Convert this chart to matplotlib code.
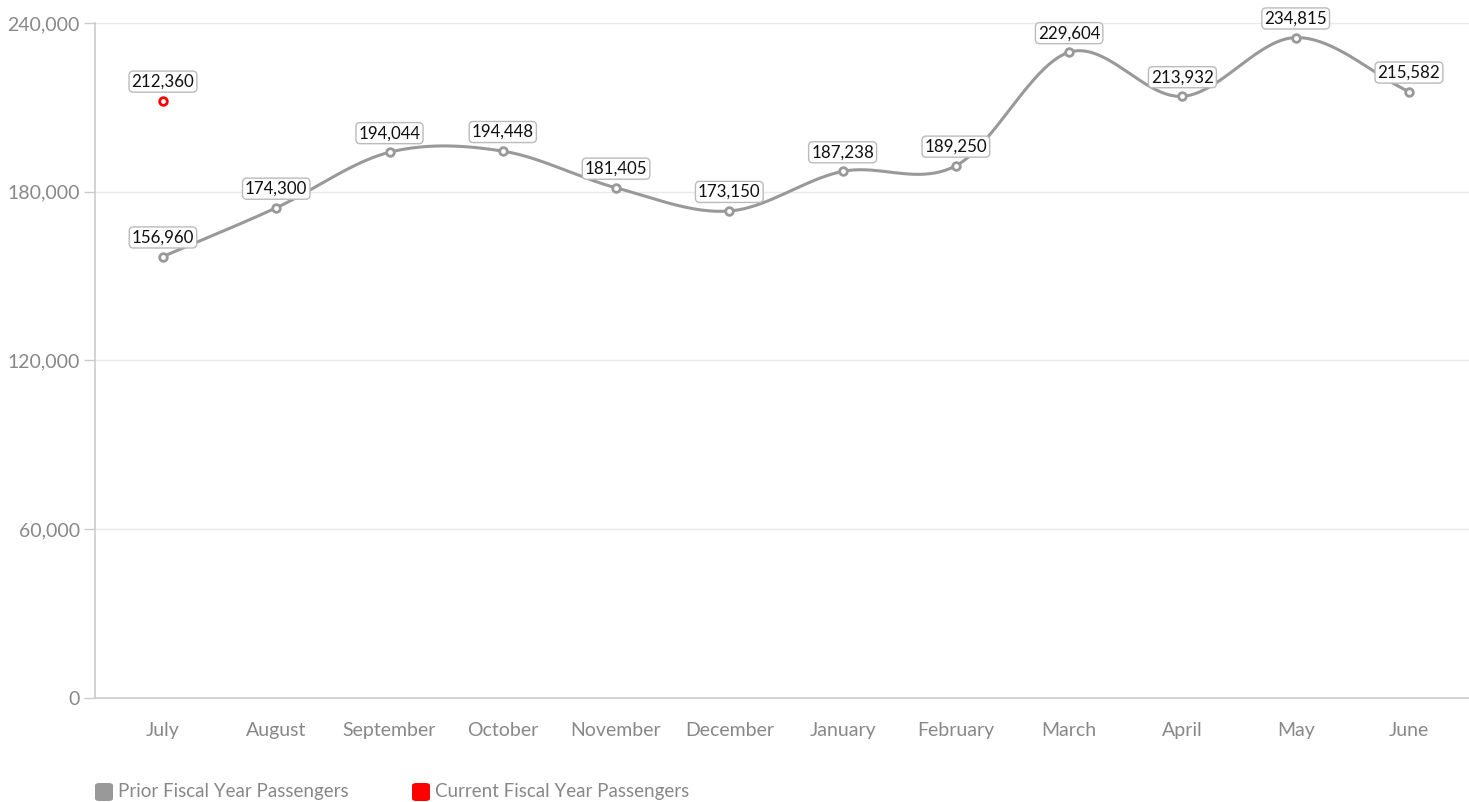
import numpy as np
import matplotlib.pyplot as plt
from matplotlib.patches import FancyBboxPatch

months = ["July", "August", "September", "October", "November", "December",
          "January", "February", "March", "April", "May", "June"]
prior = [156960, 174300, 194044, 194448, 181405, 173150,
         187238, 189250, 229604, 213932, 234815, 215582]
current = [212360]

plt.rcParams['font.family'] = ['Lato', 'DejaVu Sans']


def catmull_rom(y, steps=40):
    # smooth curve through the points (cardinal spline, tension 0)
    y = np.asarray(y, dtype=float)
    pts = np.concatenate([[2 * y[0] - y[1]], y, [2 * y[-1] - y[-2]]])
    xs, ys = [], []
    for i in range(len(y) - 1):
        p0, p1, p2, p3 = pts[i], pts[i + 1], pts[i + 2], pts[i + 3]
        t = np.linspace(0, 1, steps, endpoint=False)
        yy = 0.5 * ((2 * p1) + (-p0 + p2) * t + (2 * p0 - 5 * p1 + 4 * p2 - p3) * t ** 2
                    + (-p0 + 3 * p1 - 3 * p2 + p3) * t ** 3)
        xs.append(i + t)
        ys.append(yy)
    xs.append([len(y) - 1])
    ys.append([y[-1]])
    return np.concatenate(xs), np.concatenate(ys)


fig = plt.figure(figsize=(14.69, 8.02), dpi=100)
ax = fig.add_axes([95 / 1469, 104 / 802, 1 - 95 / 1469, (698 - 23) / 802])

x = np.arange(len(months))
cx, cy = catmull_rom(prior)
ax.plot(cx, cy, color='#999999', lw=2.2, zorder=3, solid_capstyle='round')
ax.plot(x, prior, 'o', ms=5.5, mfc='white', mec='#999999', mew=2, zorder=4)
ax.plot(x[:len(current)], current, 'o', ms=5.5, mfc='white', mec='#ff0000', mew=2, zorder=4)

bbox = dict(boxstyle='round,pad=0.15,rounding_size=0.25', fc='white', ec='#bbbbbb', lw=1)
for xi, v in zip(x, prior):
    ax.annotate(f"{v:,}", (xi, v), xytext=(0, 8), textcoords='offset points',
                ha='center', va='bottom', fontsize=12.2, color='#111111', bbox=bbox, zorder=5)
for xi, v in zip(x, current):
    ax.annotate(f"{v:,}", (xi, v), xytext=(0, 8), textcoords='offset points',
                ha='center', va='bottom', fontsize=12.2, color='#111111', bbox=bbox, zorder=5)

ax.set_xlim(-0.6, 11.53)
ax.set_ylim(0, 240000)
ax.set_yticks([0, 60000, 120000, 180000, 240000])
ax.set_yticklabels([f"{t:,}" for t in [0, 60000, 120000, 180000, 240000]])
ax.set_xticks(x)
ax.set_xticklabels(months)
ax.tick_params(axis='x', length=0, pad=17, labelsize=14, labelcolor='#888888')
ax.tick_params(axis='y', length=8, width=1, color='#cccccc', pad=3, labelsize=14, labelcolor='#888888')
ax.grid(axis='y', color='#e8e8e8', lw=1)
ax.set_axisbelow(True)
for s in ['top', 'right']:
    ax.spines[s].set_visible(False)
for s in ['left', 'bottom']:
    ax.spines[s].set_color('#cccccc')
    ax.spines[s].set_linewidth(1.2)

# legend
legend_items = [("Prior Fiscal Year Passengers", '#999999', 95),
                ("Current Fiscal Year Passengers", '#ff0000', 412)]
for label, col, px in legend_items:
    fig.patches.append(FancyBboxPatch((px / 1469, (802 - 801) / 802), 18 / 1469, 18 / 802,
                                      boxstyle='round,pad=0,rounding_size=0.003',
                                      transform=fig.transFigure, fc=col, ec='none'))
    fig.text((px + 23) / 1469, (802 - 792) / 802, label, fontsize=13.5, color='#888888',
             ha='left', va='center')

fig.savefig('out.png', dpi=100)
